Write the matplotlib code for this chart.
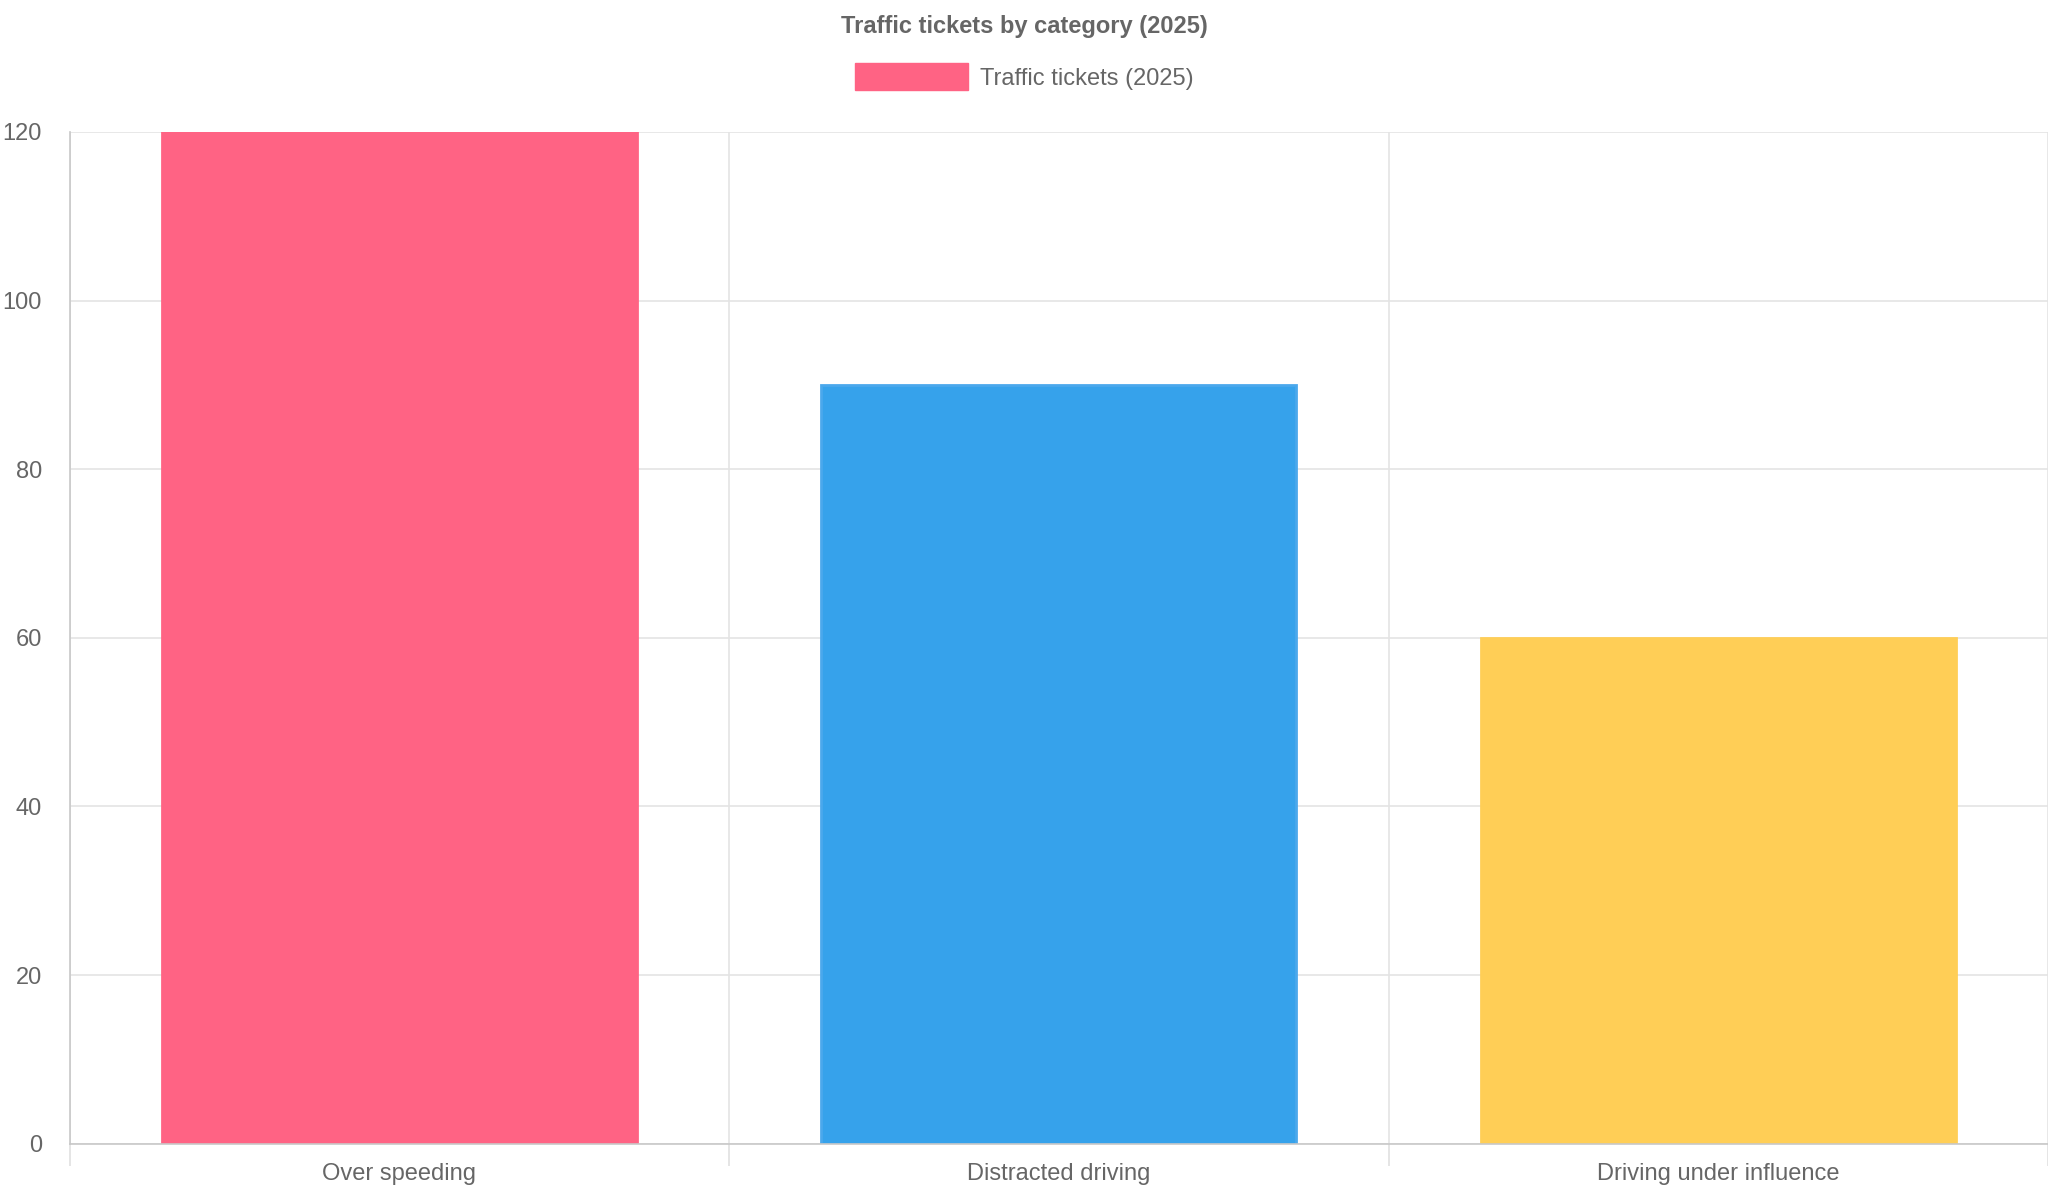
import matplotlib.pyplot as plt
from matplotlib.patches import Patch

categories = ["Over speeding", "Distracted driving", "Driving under influence"]
values = [120, 90, 60]
fills = ["#FF6384", "#36A2EB", "#FFCE56"]
edges = ["#FF6384", "#4BA8EC", "#FFCE56"]
series_name = "Traffic tickets (2025)"

plt.rcParams['font.family'] = ['Liberation Sans', 'DejaVu Sans']
grey = "#666666"

fig = plt.figure(figsize=(20.48, 12), dpi=100)
ax = fig.add_axes([0.034, 0.047, 0.966, 0.843])

x = list(range(len(categories)))
ax.bar(x, values, width=0.72, color=fills, edgecolor=edges, linewidth=2, zorder=2)

ax.set_xlim(-0.5, len(categories) - 0.5)
ax.set_ylim(0, 120)
ax.set_yticks(range(0, 121, 20))
ax.set_xticks(x)
ax.set_xticklabels(categories)
ax.set_xticks([i - 0.5 for i in range(len(categories) + 1)], minor=True)
ax.tick_params(axis='x', which='major', length=0, pad=14, labelsize=17, labelcolor=grey)
ax.tick_params(axis='x', which='minor', length=16, color="#e0e0e0", width=1.2)
ax.tick_params(axis='y', length=0, pad=20, labelsize=17, labelcolor=grey)

ax.grid(True, axis='y', color="#e4e4e4", linewidth=1.2, zorder=0)
ax.grid(True, axis='x', which='minor', color="#e4e4e4", linewidth=1.2, zorder=0)
for s in ['top', 'right']:
    ax.spines[s].set_visible(False)
ax.spines['left'].set_color("#c8c8c8")
ax.spines['bottom'].set_color("#c8c8c8")
ax.spines['left'].set_linewidth(1.2)
ax.spines['bottom'].set_linewidth(1.2)

fig.text(0.5, 0.978, "Traffic tickets by category (2025)", ha='center', va='center',
         fontsize=17, fontweight='bold', color=grey)
fig.legend(handles=[Patch(facecolor=fills[0], edgecolor=edges[0])], labels=[series_name],
           loc='center', bbox_to_anchor=(0.5, 0.936), frameon=False, fontsize=17,
           labelcolor=grey, handlelength=4.8, handleheight=1.4, handletextpad=0.5)

fig.savefig("out.png", dpi=100)
